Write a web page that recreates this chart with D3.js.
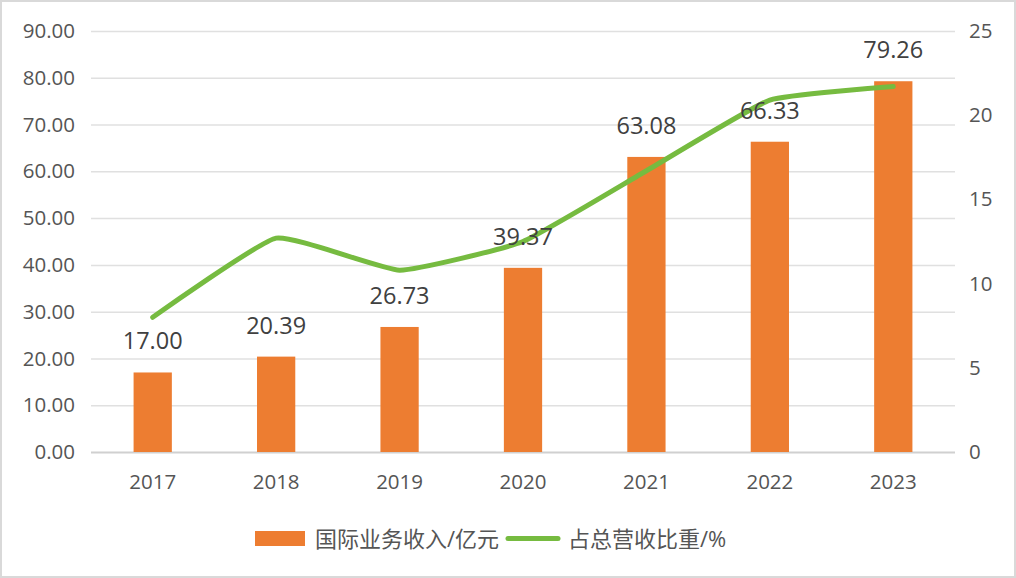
<!DOCTYPE html>
<html><head><meta charset="utf-8">
<script src="https://cdn.jsdelivr.net/npm/d3@7"></script>
<style>html,body{margin:0;padding:0;background:#fff;}svg{display:block;}</style>
</head><body>
<svg id="c" width="1016" height="578"></svg>
<script>
const years = ["2017","2018","2019","2020","2021","2022","2023"];
const revenue = [17.00, 20.39, 26.73, 39.37, 63.08, 66.33, 79.26];
const share = [8.0, 12.7, 10.8, 12.5, 16.7, 20.9, 21.7];
const leftTicks = [0,10,20,30,40,50,60,70,80,90];
const rightTicks = [0,5,10,15,20,25];
const seriesNames = ["国际业务收入/亿元", "占总营收比重/%"];

const W = 1016, H = 578;
const m = {left: 91, right: 61, top: 31, bottom: 126};
const svg = d3.select("#c");
const font = "'Open Sans', 'Noto Sans CJK SC', sans-serif";

svg.append("rect").attr("x",1).attr("y",1).attr("width",W-2).attr("height",H-2)
  .attr("fill","#fff").attr("stroke","#d9d9d9").attr("stroke-width",2);

const x = d3.scaleBand().domain(years).range([m.left, W - m.right]).paddingInner(0.69).paddingOuter(0.345);
const yL = d3.scaleLinear().domain([0,90]).range([H - m.bottom, m.top]);
const yR = d3.scaleLinear().domain([0,25]).range([H - m.bottom, m.top]);

// gridlines
const gl = d3.axisLeft(yL).tickValues(leftTicks).tickSize(-(W - m.left - m.right)).tickFormat("");
const g = svg.append("g").attr("transform",`translate(${m.left},0)`).call(gl);
g.select(".domain").remove();
g.selectAll("line").attr("stroke","#e0e0e0").attr("stroke-width",1.5);
g.selectAll("line").filter(d=>d===0).attr("stroke","#d0d0d0").attr("stroke-width",2);

// left axis labels
const al = svg.append("g").attr("transform",`translate(75,0)`)
  .call(d3.axisLeft(yL).tickValues(leftTicks).tickSize(0).tickPadding(0).tickFormat(d3.format(".2f")));
al.select(".domain").remove();
al.selectAll("text").attr("font-family",font).attr("font-size",20.5).attr("fill","#555");

// right axis labels
const ar = svg.append("g").attr("transform",`translate(969,0)`)
  .call(d3.axisRight(yR).tickValues(rightTicks).tickSize(0).tickPadding(0));
ar.select(".domain").remove();
ar.selectAll("text").attr("font-family",font).attr("font-size",20.5).attr("fill","#555");

// x axis labels
const ax = svg.append("g").attr("transform",`translate(0,${H - m.bottom})`)
  .call(d3.axisBottom(x).tickSize(0).tickPadding(22));
ax.select(".domain").remove();
ax.selectAll("text").attr("font-family",font).attr("font-size",20.5).attr("fill","#555");

// bars
svg.append("g").selectAll("rect").data(years).join("rect")
  .attr("x", d => x(d)).attr("width", x.bandwidth())
  .attr("y", (d,i) => yL(revenue[i])).attr("height", (d,i) => yL(0) - yL(revenue[i]))
  .attr("fill","#ed7d31");

// line
const line = d3.line().x((d,i) => x(years[i]) + x.bandwidth()/2).y(d => yR(d)).curve(d3.curveCardinal.tension(0.6));
svg.append("path").datum(share).attr("d", line).attr("fill","none")
  .attr("stroke","#76bb40").attr("stroke-width",5).attr("stroke-linecap","round").attr("stroke-linejoin","round");

// data labels
svg.append("g").selectAll("text").data(years).join("text")
  .attr("x", d => x(d) + x.bandwidth()/2).attr("y", (d,i) => yL(revenue[i]) - 23)
  .attr("text-anchor","middle").attr("font-family",font).attr("font-size",23.5).attr("fill","#404040")
  .text((d,i) => d3.format(".2f")(revenue[i]));

// legend
const lg = svg.append("g");
lg.append("rect").attr("x",255).attr("y",531).attr("width",50).attr("height",15).attr("fill","#ed7d31");
lg.append("text").attr("x",315).attr("y",547).attr("font-family",font).attr("font-size",22).attr("fill","#555").text(seriesNames[0]);
lg.append("line").attr("x1",508).attr("x2",558).attr("y1",538.5).attr("y2",538.5)
  .attr("stroke","#76bb40").attr("stroke-width",5).attr("stroke-linecap","round");
lg.append("text").attr("x",568).attr("y",547).attr("font-family",font).attr("font-size",22).attr("fill","#555").text(seriesNames[1]);
</script>
</body></html>
